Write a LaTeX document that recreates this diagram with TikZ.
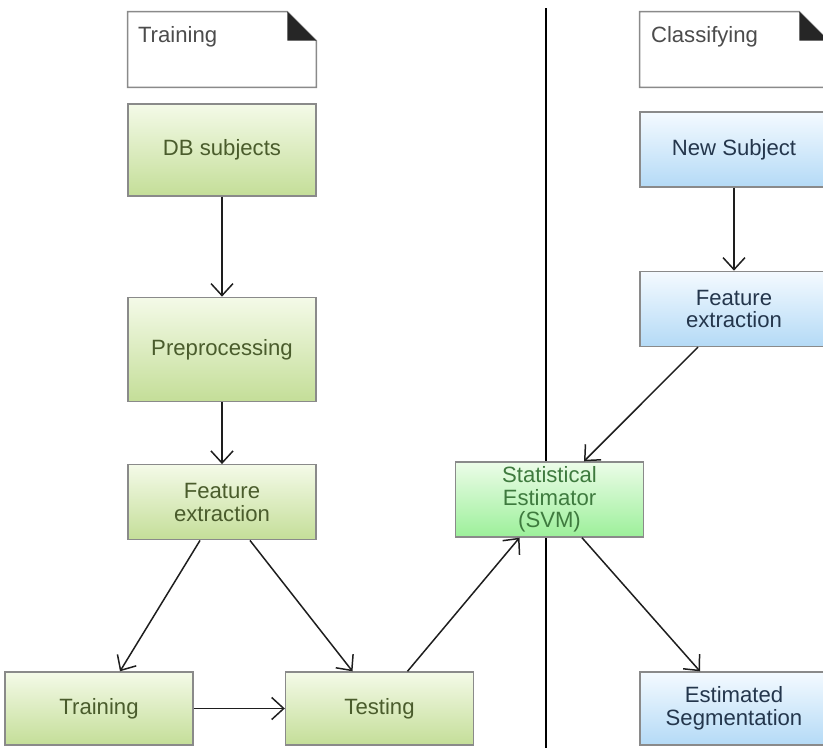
\documentclass[tikz,border=0pt]{standalone}
\usepackage{fontspec}
\setmainfont{Liberation Sans}
\usetikzlibrary{positioning}
\usetikzlibrary{calc}
\usetikzlibrary{arrows.meta}
\definecolor{boxgray}{HTML}{8A8A8A}
\definecolor{greentop}{HTML}{F4FAE8}
\definecolor{greenbot}{HTML}{C4DE98}
\definecolor{greentext}{HTML}{4A5C2C}
\definecolor{svmtop}{HTML}{ECFCE8}
\definecolor{svmbot}{HTML}{9CF09A}
\definecolor{svmtext}{HTML}{3E7A3E}
\definecolor{bluetop}{HTML}{F4FAFF}
\definecolor{bluebot}{HTML}{B4DAF6}
\definecolor{bluetext}{HTML}{24364C}
\definecolor{notetext}{HTML}{4C4C4C}
\definecolor{folddark}{HTML}{262626}
\definecolor{arrowdark}{HTML}{1E1E1E}
\newcommand{\boxfont}{\fontsize{12.6}{12.8}\selectfont}
\tikzset{
  box/.style={draw=boxgray, line width=0.8pt, minimum width=3.76cm, minimum height=1.5cm, font=\boxfont, align=center, inner sep=2pt},
  trainbox/.style={box, top color=greentop, bottom color=greenbot, text=greentext},
  svmbox/.style={box, top color=svmtop, bottom color=svmbot, text=svmtext},
  classbox/.style={box, top color=bluetop, bottom color=bluebot, text=bluetext},
  note/.style={minimum width=3.76cm, minimum height=1.5cm, inner sep=0pt},
  notetitle/.style={font=\boxfont, text=notetext, anchor=west, inner sep=0pt},
  notepath/.style={draw=boxgray, line width=0.8pt, fill=white},
  link/.style={draw=arrowdark, line width=0.85pt, -{Straight Barb[length=2.4mm,width=4.4mm]}},
  divider/.style={draw=black, line width=1pt}
}
\begin{document}
\begin{tikzpicture}[x=0.02cm,y=-0.02cm]
\path[use as bounding box,clip] (0,0) rectangle (823,748);
\fill[white] (0,0) rectangle (823,748);

% divider between the two phases
\coordinate (divtop) at (546,8);
\coordinate (divbot) at (546,748);
\draw[divider] (divtop) -- (divbot);

% training side
\node (trnote) at (222,49.5) [note] {};
\draw[notepath] (trnote.north west) -- ([xshift=-0.58cm]trnote.north east) -- ([yshift=-0.58cm]trnote.north east) -- (trnote.south east) -- (trnote.south west) -- cycle;
\fill[folddark] ([xshift=-0.58cm]trnote.north east) -- ([xshift=-0.58cm,yshift=-0.58cm]trnote.north east) -- ([yshift=-0.58cm]trnote.north east) -- cycle;
\node (trtitle) at ([xshift=0.2cm,yshift=-0.5cm]trnote.north west) [notetitle] {Training};

\node (db) at (222,150) [trainbox, minimum height=1.84cm] {DB subjects};
\node (prep) [trainbox, minimum height=2.08cm, below=2cm of db] {Preprocessing};
\node (lfeat) [trainbox, below=1.24cm of prep] {Feature\\extraction};
\node (trn) at (99,708.5) [trainbox, minimum height=1.46cm] {Training};
\node (tst) at (379.5,708.5) [trainbox, minimum height=1.46cm] {Testing};

\node (svm) at (549.5,499.5) [svmbox] {Statistical\\Estimator\\(SVM)};

% classifying side
\node (clnote) at (734,49.5) [note] {};
\draw[notepath] (clnote.north west) -- ([xshift=-0.58cm]clnote.north east) -- ([yshift=-0.58cm]clnote.north east) -- (clnote.south east) -- (clnote.south west) -- cycle;
\fill[folddark] ([xshift=-0.58cm]clnote.north east) -- ([xshift=-0.58cm,yshift=-0.58cm]clnote.north east) -- ([yshift=-0.58cm]clnote.north east) -- cycle;
\node (cltitle) at ([xshift=0.22cm,yshift=-0.5cm]clnote.north west) [notetitle] {Classifying};

\node (newsub) at (734,149.5) [classbox] {New Subject};
\node (rfeat) [classbox, below=1.66cm of newsub] {Feature\\extraction};
\node (estseg) at (734,708.5) [classbox, minimum height=1.46cm] {Estimated\\Segmentation};

% connectors
\draw[link] (db) -- (prep);
\draw[link] (prep) -- (lfeat);
\draw[link] ([xshift=-0.44cm]lfeat.south) -- ([xshift=0.42cm]trn.north);
\draw[link] ([xshift=0.56cm]lfeat.south) -- ([xshift=-0.54cm]tst.north);
\draw[link] (trn) -- (tst);
\draw[link] ([xshift=0.56cm]tst.north) -- ([xshift=-0.6cm]svm.south);
\draw[link] (newsub) -- (rfeat);
\draw[link] ([xshift=-0.72cm]rfeat.south) -- ([xshift=0.69cm]svm.north);
\draw[link] ([xshift=0.65cm]svm.south) -- ([xshift=-0.68cm]estseg.north);
\end{tikzpicture}
\end{document}
